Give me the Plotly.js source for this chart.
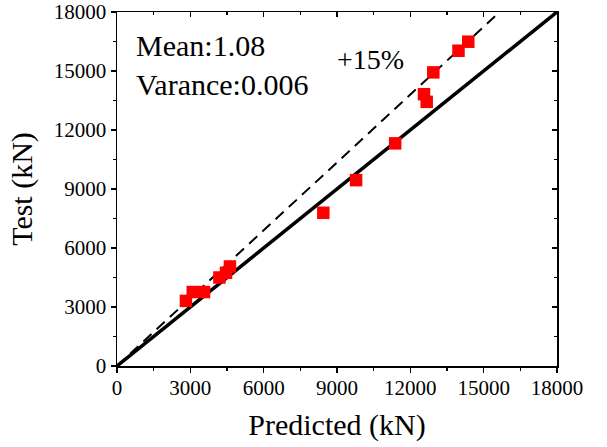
<!DOCTYPE html>
<html>
<head>
<meta charset="utf-8">
<script src="https://cdn.plot.ly/plotly-3.0.1.min.js"></script>
<style>html,body{margin:0;padding:0;background:#fff;}#chart{width:607px;height:447px;}</style>
</head>
<body>
<div id="chart"></div>
<script>
const predicted = [2820, 3100, 3560, 4190, 4460, 4620, 8440, 9780, 11380, 12560, 12670, 12940, 13970, 14370];
const test      = [3310, 3760, 3760, 4500, 4740, 5060, 7790, 9450, 11320, 13820, 13430, 14930, 16030, 16490];
const lineX = [0, 18000];
const lineY = [0, 18000];
const dashX = [0, 15652];
const dashY = [0, 18000];
const tickVals = [0, 3000, 6000, 9000, 12000, 15000, 18000];
const tickText = ["0", "3000", "6000", "9000", "12000", "15000", "18000"];

const font = "'Liberation Serif', 'Times New Roman', serif";

const traces = [
  {x: lineX, y: lineY, mode: 'lines', line: {color: '#000', width: 3.5}, hoverinfo: 'skip'},
  {x: dashX, y: dashY, mode: 'lines', line: {color: '#000', width: 2, dash: '11px,7px'}, hoverinfo: 'skip'},
  {x: predicted, y: test, mode: 'markers', marker: {symbol: 'square', size: 12.5, color: '#ff0000'}}
];

const axBase = {
  range: [0, 18000], showgrid: false, zeroline: false, linecolor: '#000', linewidth: 1.5,
  ticks: 'outside', ticklen: 5, tickwidth: 1.5, tickcolor: '#000',
  tickvals: tickVals, ticktext: tickText,
  minor: {dtick: 1500, ticks: 'outside', ticklen: 3, tickwidth: 1.5, tickcolor: '#000'},
  tickfont: {family: font, size: 21, color: '#000'}
};

const layout = {
  width: 607, height: 447,
  margin: {l: 117, r: 50, t: 12, b: 81},
  paper_bgcolor: '#fff', plot_bgcolor: '#fff',
  showlegend: false,
  xaxis: Object.assign({}, axBase, {ticklabelstandoff: -3, title: {text: 'Predicted (kN)', font: {family: font, size: 30, color: '#000'}, standoff: 15}}),
  yaxis: Object.assign({}, axBase, {title: {text: 'Test (kN)', font: {family: font, size: 30, color: '#000'}, standoff: 12}}),
  xaxis2: {overlaying: 'x', side: 'top', range: [0, 18000], showgrid: false, zeroline: false, showline: true, linecolor: '#000', linewidth: 1.5,
    ticks: 'inside', ticklen: 5, tickwidth: 1.5, tickcolor: '#000', tickvals: tickVals, showticklabels: false,
    minor: {dtick: 1500, ticks: 'inside', ticklen: 3, tickwidth: 1.5, tickcolor: '#000'}},
  yaxis2: {overlaying: 'y', side: 'right', range: [0, 18000], showgrid: false, zeroline: false, showline: true, linecolor: '#000', linewidth: 1.5,
    ticks: 'inside', ticklen: 5, tickwidth: 1.5, tickcolor: '#000', tickvals: tickVals, showticklabels: false,
    minor: {dtick: 1500, ticks: 'inside', ticklen: 3, tickwidth: 1.5, tickcolor: '#000'}},
  annotations: [
    {xref: 'paper', yref: 'paper', x: 0.038, y: 0.905, xanchor: 'left', yanchor: 'middle', showarrow: false,
     text: 'Mean:1.08', font: {family: font, size: 30, color: '#000'}},
    {xref: 'paper', yref: 'paper', x: 0.038, y: 0.795, xanchor: 'left', yanchor: 'middle', showarrow: false,
     text: 'Varance:0.006', font: {family: font, size: 30, color: '#000'}},
    {xref: 'paper', yref: 'paper', x: 0.576, y: 0.865, xanchor: 'center', yanchor: 'middle', showarrow: false,
     text: '+15%', font: {family: font, size: 28, color: '#000'}}
  ]
};

traces.push({x: [0], y: [0], xaxis: 'x2', yaxis: 'y2', mode: 'markers', marker: {opacity: 0}, hoverinfo: 'skip'});

Plotly.newPlot('chart', traces, layout, {staticPlot: true, displayModeBar: false});
</script>
</body>
</html>
